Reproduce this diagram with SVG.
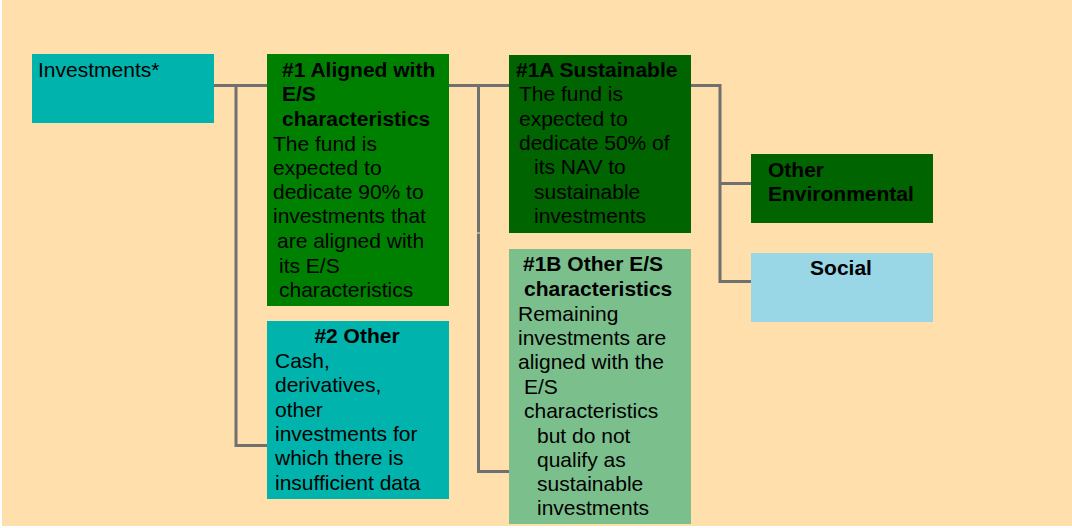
<svg xmlns="http://www.w3.org/2000/svg" width="1072" height="528" viewBox="0 0 1072 528">
<style>
text{font-family:"Liberation Sans",Arial,sans-serif;font-size:21px;fill:#000}
.b{font-weight:bold}
.c{text-anchor:middle}
.ln{stroke:#707070;stroke-width:3;fill:none}
</style>
<rect x="0" y="0" width="1072" height="528" fill="#ffffff"/>
<rect x="2" y="0" width="1070" height="526" fill="#FFDFAB"/>
<g id="connectors">
<path class="ln" d="M214 85.5H267M236 84V445.5H267"/>
<path class="ln" d="M449 85.5H509M478.5 84V232.5M478.5 233.5V471.5H509"/>
<path class="ln" d="M691 85.5H720V281.5H751M720 183.5H751"/>
</g>
<g id="investments">
<rect x="32" y="54" width="182" height="69" fill="#00B3AC"/>
<text x="38" y="77">Investments*</text>
</g>
<g id="aligned">
<rect x="267" y="54" width="182" height="252" fill="#008000"/>
<text class="b" x="282" y="77">#1 Aligned with</text>
<text class="b" x="282" y="101">E/S</text>
<text class="b" x="282" y="126">characteristics</text>
<text x="273" y="151">The fund is</text>
<text x="273" y="175">expected to</text>
<text x="273" y="199">dedicate 90% to</text>
<text x="273" y="223">investments that</text>
<text x="277" y="248">are aligned with</text>
<text x="279" y="273">its E/S</text>
<text x="279" y="297">characteristics</text>
</g>
<g id="other2">
<rect x="267" y="321" width="182" height="178" fill="#00B3AC"/>
<text class="b c" x="357" y="343">#2 Other</text>
<text x="275" y="368">Cash,</text>
<text x="275" y="392">derivatives,</text>
<text x="275" y="417">other</text>
<text x="275" y="441">investments for</text>
<text x="275" y="465">which there is</text>
<text x="275" y="490">insufficient data</text>
</g>
<g id="sustainable">
<rect x="509" y="55" width="182" height="178" fill="#006400"/>
<text class="b" x="516" y="77">#1A Sustainable</text>
<text x="519" y="101">The fund is</text>
<text x="519" y="126">expected to</text>
<text x="519" y="150">dedicate 50% of</text>
<text x="534" y="174">its NAV to</text>
<text x="534" y="199">sustainable</text>
<text x="534" y="223">investments</text>
</g>
<g id="otheres">
<rect x="509" y="249" width="182" height="275" fill="#7BBF8D"/>
<text class="b" x="523" y="271">#1B Other E/S</text>
<text class="b" x="524" y="296">characteristics</text>
<text x="518" y="321">Remaining</text>
<text x="518" y="345">investments are</text>
<text x="518" y="369">aligned with the</text>
<text x="524" y="394">E/S</text>
<text x="524" y="418">characteristics</text>
<text x="537" y="443">but do not</text>
<text x="537" y="467">qualify as</text>
<text x="537" y="491">sustainable</text>
<text x="537" y="515">investments</text>
</g>
<g id="environmental">
<rect x="751" y="154" width="182" height="69" fill="#006400"/>
<text class="b" x="768" y="177">Other</text>
<text class="b" x="768" y="201">Environmental</text>
</g>
<g id="social">
<rect x="751" y="253" width="182" height="69" fill="#99D7E7"/>
<text class="b c" x="841" y="275">Social</text>
</g>
</svg>
